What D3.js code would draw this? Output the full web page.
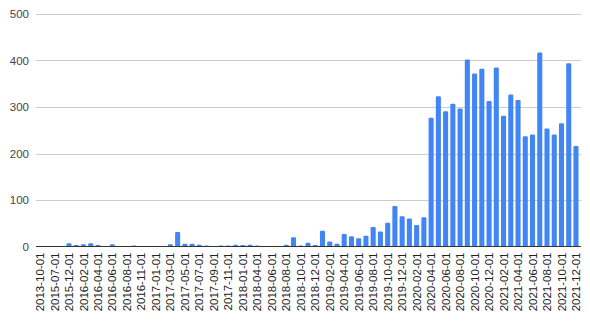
<!DOCTYPE html>
<html>
<head>
<meta charset="utf-8">
<script src="https://cdn.jsdelivr.net/npm/d3@7"></script>
<style>
html,body{margin:0;padding:0;background:#fff;}
svg{display:block;}
text{font-family:"Liberation Sans",Arial,sans-serif;}
</style>
</head>
<body>
<svg id="chart" width="590" height="323"></svg>
<script>
const categories = [
"2013-10-01","2015-01-01","2015-07-01","2015-09-01","2015-12-01","2016-01-01","2016-02-01","2016-03-01","2016-04-01","2016-05-01",
"2016-06-01","2016-07-01","2016-08-01","2016-10-01","2016-11-01","2016-12-01","2017-01-01","2017-02-01","2017-03-01","2017-04-01",
"2017-05-01","2017-06-01","2017-07-01","2017-08-01","2017-09-01","2017-10-01","2017-11-01","2017-12-01","2018-01-01","2018-02-01",
"2018-04-01","2018-05-01","2018-06-01","2018-07-01","2018-08-01","2018-09-01","2018-10-01","2018-11-01","2018-12-01","2019-01-01",
"2019-02-01","2019-03-01","2019-04-01","2019-05-01","2019-06-01","2019-07-01","2019-08-01","2019-09-01","2019-10-01","2019-11-01",
"2019-12-01","2020-01-01","2020-02-01","2020-03-01","2020-04-01","2020-05-01","2020-06-01","2020-07-01","2020-08-01","2020-09-01",
"2020-10-01","2020-11-01","2020-12-01","2021-01-01","2021-02-01","2021-03-01","2021-04-01","2021-05-01","2021-06-01","2021-07-01",
"2021-08-01","2021-09-01","2021-10-01","2021-11-01","2021-12-01"
];
const values = [
1,1,1,1,7,3,5,7,3,1,
5,1,1,2,1,1,1,1,5,31,
6,6,4,2,1,2,2,4,3,4,
2,1,1,1,4,20,2,8,3,34,
11,6,27,22,18,23,42,32,51,87,
65,60,46,63,277,323,291,307,297,402,
372,382,313,385,281,327,315,237,241,417,
254,241,265,394,216
];
const yTicks = [0,100,200,300,400,500];

const svg = d3.select("#chart");
const x = d3.scaleBand().domain(categories).range([36.4, 579.6]).paddingInner(0.3).paddingOuter(0.15);
const y = d3.scaleLinear().domain([0,500]).range([246.5, 14]);

// gridlines
svg.append("g").selectAll("line").data(yTicks.filter(d=>d>0)).join("line")
  .attr("x1",36).attr("x2",581)
  .attr("y1",d=>Math.round(y(d))+0.5).attr("y2",d=>Math.round(y(d))+0.5)
  .attr("stroke","#cccccc").attr("stroke-width",1);

// y labels
svg.append("g").selectAll("text").data(yTicks).join("text")
  .attr("x",29).attr("y",d=>y(d)+4)
  .attr("text-anchor","end").attr("font-size",11.5).attr("fill","#444")
  .text(d=>d);

// bars
svg.append("g").selectAll("rect").data(values).join("rect")
  .attr("x",(d,i)=>x(categories[i]))
  .attr("width",x.bandwidth())
  .attr("y",d=>y(d))
  .attr("height",d=>y(0)-y(d))
  .attr("rx",1.2)
  .attr("fill","#4285f4");

// baseline
svg.append("line").attr("x1",36).attr("x2",581)
  .attr("y1",246.5).attr("y2",246.5).attr("stroke","#333").attr("stroke-width",1);

// x labels (every other)
const xAxis = d3.axisBottom(x).tickValues(categories.filter((d,i)=>i%2===0)).tickSize(0).tickPadding(0);
const gx = svg.append("g").attr("transform","translate(0,246.5)").call(xAxis);
gx.select(".domain").remove();
gx.selectAll("text")
  .attr("font-family","'Liberation Sans',Arial,sans-serif")
  .attr("font-size",11.5).attr("fill","#222")
  .attr("transform","rotate(-90)")
  .attr("x",-6).attr("y",0).attr("dy","0.35em")
  .attr("text-anchor","end");
</script>
</body>
</html>
